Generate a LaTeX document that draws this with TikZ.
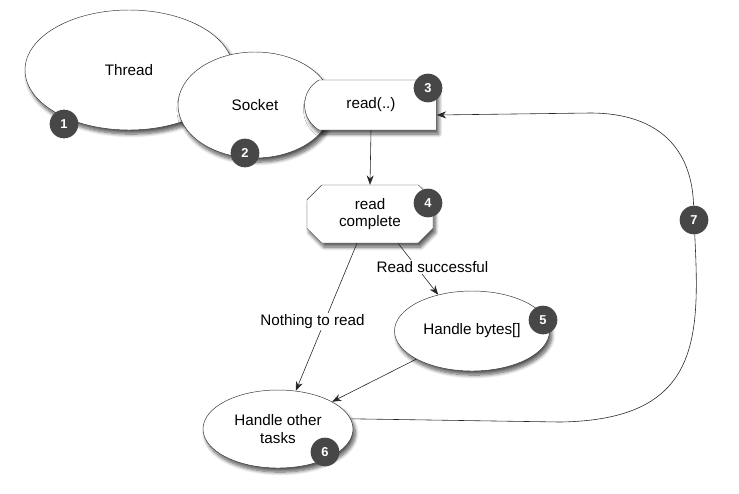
\documentclass[tikz,border=0pt]{standalone}
\usepackage{fontspec}
\setmainfont{Liberation Sans}
\usetikzlibrary{shapes.geometric,shapes.misc,shadows.blur,arrows.meta,calc}
\tikzset{
  soft shadow/.style={blur shadow={shadow xshift=2pt,shadow yshift=-3.5pt,
    shadow blur radius=3pt,shadow blur steps=8,shadow opacity=65}},
  state/.style={draw=black!80,ellipse,fill=white,inner sep=0pt,align=center,soft shadow},
  call/.style={draw=black!80,rounded rectangle,rounded rectangle right arc=none,
    rounded rectangle arc length=120,fill=white,inner sep=0pt,soft shadow},
  result/.style={draw=black!80,chamfered rectangle,chamfered rectangle xsep=0.22cm,
    chamfered rectangle ysep=0.22cm,fill=white,inner sep=0pt,align=center,soft shadow},
  badge/.style={circle,fill=black!72,text=white,font=\bfseries\fontsize{11}{13}\selectfont,
    minimum size=0.86cm,inner sep=0pt},
  flow/.style={draw=black!85,line width=0.5pt,-{Stealth[length=8pt,width=6pt]}},
  note/.style={fill=white,inner sep=1pt}
}

\begin{document}
\begin{tikzpicture}[x=0.03cm,y=-0.03cm,font=\fontsize{13}{15}\selectfont]
  \useasboundingbox (0,0) rectangle (739,493);

  % states
  \node[state,minimum width=6.24cm,minimum height=3.6cm] (thread) at (129,70) {Thread};
  \node[state,minimum width=4.62cm,minimum height=3.18cm] (socket) at (255,105) {Socket};
  \node[call,minimum width=3.96cm,minimum height=1.5cm] (read) at (371,105) {read(..)};
  \node[result,minimum width=3.78cm,minimum height=1.74cm] (complete) at (370,214) {read\\complete};
  \node[state,minimum width=4.65cm,minimum height=2.4cm] (bytes) at (472,331) {Handle bytes[]};
  \node[state,minimum width=4.5cm,minimum height=2.34cm] (other) at (278,429) {Handle other\\tasks};

  % numbered markers
  \foreach \n/\x/\y in {1/64/124,2/245/153,3/428/88,4/428/203,5/543/320,6/325/452,7/694/220}
    \node[badge] (b\n) at (\x,\y) {\n};

  % transitions
  \draw[flow] (read.south) -- (complete.north);
  \draw[flow] ($(complete.south)+(-13,0)$) -- node[note,pos=0.53,xshift=-0.36cm] {Nothing to read} (other.65);
  \draw[flow] ($(complete.south)+(28,0)$) -- node[note,pos=0.46,xshift=0.48cm] {Read successful} (bytes.133);
  \draw[flow] (bytes) -- (other);
  \draw[flow] (other.8) -- (560,422) .. controls (700,420) and (700,340) .. (b7)
    .. controls (692,150) and (660,113) .. (590,113) -- ($(read.east)+(0,10)$);
\end{tikzpicture}
\end{document}
